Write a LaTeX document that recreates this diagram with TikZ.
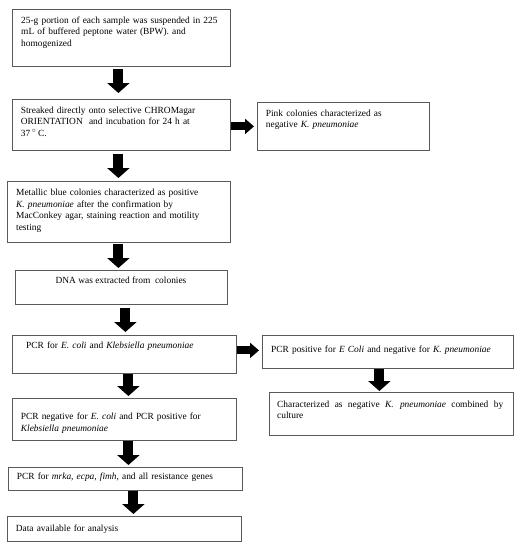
\documentclass[tikz,border=0pt]{standalone}
\usepackage{fontspec}
\setmainfont{Liberation Serif}
\usetikzlibrary{arrows.meta}
\begin{document}
\begin{tikzpicture}[x=1pt,y=-1pt,
  box/.style={draw=black!65,line width=0.8pt,anchor=north west,inner sep=0pt,minimum width=#1},
  txt/.style={anchor=base west,inner sep=0pt,text width=250pt,align=left,font=\fontsize{9.4}{11.7}\selectfont},
  vfat/.style={line width=10pt,-{Triangle[width=22pt,length=10pt]}},
  hfat/.style={line width=8pt,-{Triangle[width=15pt,length=9pt]}}]
\useasboundingbox[fill=white] (0,0) rectangle (523,550);
% boxes
\node[box=218pt,minimum height=57pt] (b1) at (12,9) {};
\node[box=218pt,minimum height=51pt] (b2) at (12,99) {};
\node[box=172pt,minimum height=48pt] (b3) at (257,102) {};
\node[box=223pt,minimum height=61pt] (b4) at (7,181) {};
\node[box=212pt,minimum height=34pt] (b5) at (15,270) {};
\node[box=224pt,minimum height=38pt] (b6) at (12,335) {};
\node[box=251pt,minimum height=33pt] (b7) at (262,335) {};
\node[box=244pt,minimum height=43pt] (b8) at (269,392) {};
\node[box=224pt,minimum height=42pt] (b9) at (12,398) {};
\node[box=234pt,minimum height=23pt] (b10) at (8,467) {};
\node[box=234pt,minimum height=25pt] (b11) at (7,516) {};
% texts
\node[txt] (t1) at (21,23) {25-g portion of each sample was suspended in 225\\ mL of buffered peptone water (BPW). and\\ homogenized};
\node[txt] (t2) at (20.7,113) {Streaked directly onto selective CHROMagar\\ ORIENTATION\ \ and incubation for 24 h at\\ 37\,$^{\circ}$\,C.};
\node[txt] (t3) at (265.7,116) {Pink colonies characterized as\\ negative \textit{K. pneumoniae}};
\node[txt] (t4) at (16,195.5) {Metallic blue colonies characterized as positive\\ \textit{K. pneumoniae} after the confirmation by\\ MacConkey agar, staining reaction and motility\\ testing};
\node[anchor=base,inner sep=0pt,font=\fontsize{9.4}{11.7}\selectfont] (t5) at (121,283) {DNA was extracted from\ \ colonies};
\node[txt] (t6) at (26,348) {PCR for \textit{E. coli} and \textit{Klebsiella pneumoniae}};
\node[txt] (t7) at (271,352) {PCR positive for \textit{E Coli} and negative for \textit{K. pneumoniae}};
\node[txt,text width=226pt] (t8) at (277,407) {\hbox to 226pt{Characterized\hfill as\hfill negative\hfill \textit{K.\ \ pneumoniae}\hfill combined\hfill by}\\ culture};
\node[txt] (t9) at (20.7,419.5) {PCR negative for \textit{E. coli} and PCR positive for\\ \textit{Klebsiella pneumoniae}};
\node[txt] (t10) at (16.7,479.5) {PCR for \textit{mrka, ecpa, fimh}, and all resistance genes};
\node[txt] (t11) at (15.7,531) {Data available for analysis};
% arrows
\draw[vfat,shorten <=2pt,shorten >=6pt] ([xshift=-3pt]b1.south) -- ([xshift=-3pt]b2.north);
\draw[vfat,shorten <=3pt,shorten >=3pt] ([xshift=-3pt]b2.south) -- ([xshift=-0.5pt]b4.north);
\draw[vfat,shorten <=1pt,shorten >=2pt] ([xshift=-0.5pt]b4.south) -- ([xshift=-3pt]b5.north);
\draw[vfat,shorten <=3pt,shorten >=3pt] ([xshift=4pt]b5.south) -- ([xshift=1pt]b6.north);
\draw[vfat,shorten <=0.5pt,shorten >=1pt] ([xshift=-8.5pt]b7.south) -- ([xshift=-12pt]b8.north);
\draw[vfat,shorten <=0.5pt,shorten >=2pt] ([xshift=4pt]b6.south) -- ([xshift=4pt]b9.north);
\draw[vfat,shorten <=0.5pt,shorten >=2pt] ([xshift=4pt]b9.south) -- ([xshift=3pt]b10.north);
\draw[vfat,shorten <=0.5pt,shorten >=2pt] ([xshift=8pt]b10.south) -- ([xshift=9pt]b11.north);
\draw[hfat,shorten >=3pt] ([yshift=-1.5pt]b2.east) -- (b3.west);
\draw[hfat,shorten >=3pt] ([yshift=4pt]b6.east) -- ([yshift=1.5pt]b7.west);
\end{tikzpicture}
\end{document}
